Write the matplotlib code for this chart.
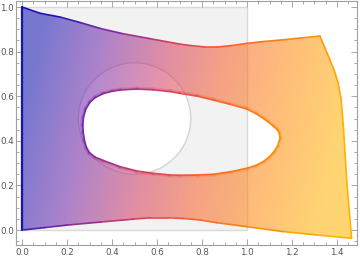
import numpy as np
import matplotlib
matplotlib.use("Agg")
from matplotlib import pyplot as plt
from matplotlib.path import Path
from matplotlib.patches import PathPatch, Rectangle, Circle
from matplotlib.collections import LineCollection
from matplotlib.colors import LinearSegmentedColormap
from matplotlib.ticker import MultipleLocator

# outer boundary of the deformed square
left_x = [0.0, 0.0]
left_y = [0.0, 1.0]
top_x = [0.0, 0.08, 0.169, 0.26, 0.347, 0.45, 0.569, 0.64, 0.70, 0.75, 0.813, 0.87,
         0.93, 1.0, 1.07, 1.15, 1.24, 1.324]
top_y = [1.0, 0.972, 0.955, 0.93, 0.904, 0.88, 0.858, 0.845, 0.834, 0.827, 0.821, 0.821,
         0.827, 0.837, 0.845, 0.852, 0.861, 0.87]
right_x = [1.324, 1.345, 1.369, 1.388, 1.405, 1.418, 1.428, 1.436, 1.445, 1.455, 1.465]
right_y = [0.87, 0.82, 0.762, 0.715, 0.66, 0.59, 0.47, 0.344, 0.2, 0.08, -0.037]
bottom_x = [1.465, 1.31, 1.161, 1.0, 0.865, 0.791, 0.717, 0.65, 0.569, 0.495, 0.35,
            0.198, 0.1, 0.0]
bottom_y = [-0.037, -0.022, -0.007, 0.015, 0.033, 0.045, 0.052, 0.055, 0.055, 0.049,
            0.036, 0.022, 0.011, 0.0]

# hole (deformed circle)
hole_x = [0.270, 0.272, 0.277, 0.287, 0.30, 0.325, 0.361, 0.436, 0.51, 0.585, 0.658,
          0.702, 0.78, 0.85, 0.93, 0.999, 1.04, 1.072, 1.098, 1.117, 1.135, 1.147, 1.143,
          1.132, 1.117, 1.095, 1.072, 1.04, 0.999, 0.92, 0.85, 0.78, 0.702, 0.658, 0.58,
          0.51, 0.436, 0.40, 0.361, 0.325, 0.302, 0.283, 0.273, 0.270]
hole_y = [0.471, 0.437, 0.403, 0.368, 0.346, 0.327, 0.312, 0.284, 0.265, 0.254, 0.247,
          0.246, 0.247, 0.25, 0.262, 0.277, 0.29, 0.307, 0.327, 0.348, 0.375, 0.411, 0.437,
          0.452, 0.466, 0.484, 0.501, 0.522, 0.543, 0.565, 0.583, 0.60, 0.613, 0.621, 0.629,
          0.632, 0.628, 0.622, 0.612, 0.594, 0.573, 0.542, 0.505, 0.471]

# reference square and circle
square = (0.0, 0.0, 1.0, 1.0)
circle_c = (0.5, 0.5)
circle_r = 0.25

line_cmap = LinearSegmentedColormap.from_list(
    "edge", ["#1414b4", "#7828aa", "#d23c64", "#fa6428", "#ff8c0a", "#ffb400"])


def tval(x, y):
    return np.clip((np.asarray(x) - 0.22 * (np.asarray(y) - 0.5)) / 1.45, 0, 1)


def colored_line(ax, xs, ys, lw, alpha=1.0, z=5, clip=None):
    pts = np.column_stack([xs, ys])
    segs = np.stack([pts[:-1], pts[1:]], axis=1)
    mid = segs.mean(axis=1)
    lc = LineCollection(segs, colors=line_cmap(tval(mid[:, 0], mid[:, 1])),
                        linewidths=lw, alpha=alpha, zorder=z, capstyle="round",
                        joinstyle="round")
    ax.add_collection(lc)
    if clip is not None:
        lc.set_clip_path(clip)
    return lc


fig = plt.figure(figsize=(3.6, 2.61), dpi=100)
ax = fig.add_axes([16 / 360, 16 / 261, 341 / 360, 244 / 261])

ax.add_patch(Rectangle(square[:2], square[2], square[3], facecolor="#f2f2f2",
                       edgecolor="#d9d9d9", lw=1.0, zorder=1))
ax.add_patch(Circle(circle_c, circle_r, facecolor="white", edgecolor="#d4d4d4",
                    lw=1.0, zorder=2))

outer_x = left_x + top_x[1:] + right_x[1:] + bottom_x[1:]
outer_y = left_y + top_y[1:] + right_y[1:] + bottom_y[1:]
verts = list(zip(outer_x, outer_y)) + list(zip(hole_x, hole_y))
codes = ([Path.MOVETO] + [Path.LINETO] * (len(outer_x) - 2) + [Path.CLOSEPOLY]
         + [Path.MOVETO] + [Path.LINETO] * (len(hole_x) - 2) + [Path.CLOSEPOLY])
shape = PathPatch(Path(verts, codes), facecolor="none", edgecolor="none")
ax.add_patch(shape)

gx, gy = np.meshgrid(np.linspace(-0.05, 1.5, 300), np.linspace(-0.1, 1.05, 200))
img = ax.imshow(line_cmap(tval(gx, gy)), extent=(-0.05, 1.5, -0.1, 1.05),
                origin="lower", alpha=0.55, zorder=3, aspect="auto",
                interpolation="bilinear")
img.set_clip_path(shape)

# fuzzy band just outside the hole
colored_line(ax, hole_x, hole_y, lw=3.5, alpha=0.22, z=4, clip=shape)

colored_line(ax, left_x, left_y, lw=1.6)
colored_line(ax, top_x, top_y, lw=1.2)
colored_line(ax, right_x, right_y, lw=1.2)
colored_line(ax, bottom_x, bottom_y, lw=1.2)
colored_line(ax, hole_x, hole_y, lw=1.2)

ax.set_xlim(-0.027, 1.489)
ax.set_ylim(-0.067, 1.027)
ax.xaxis.set_major_locator(MultipleLocator(0.2))
ax.xaxis.set_minor_locator(MultipleLocator(0.05))
ax.yaxis.set_major_locator(MultipleLocator(0.2))
ax.yaxis.set_minor_locator(MultipleLocator(0.05))
ax.xaxis.set_major_formatter(lambda v, p: f"{v:.1f}")
ax.yaxis.set_major_formatter(lambda v, p: f"{v:.1f}")
ax.tick_params(which="both", direction="in", top=True, right=True,
               color="#9a9a9a", labelsize=6.3, labelcolor="#555555", width=0.6)
ax.tick_params(which="major", length=4, pad=2.5)
ax.tick_params(axis="y", which="major", pad=1.5)
ax.tick_params(which="minor", length=2.2)
for sp in ax.spines.values():
    sp.set_color("#a0a0a0")
    sp.set_linewidth(0.8)

fig.savefig("out.png", dpi=100)
